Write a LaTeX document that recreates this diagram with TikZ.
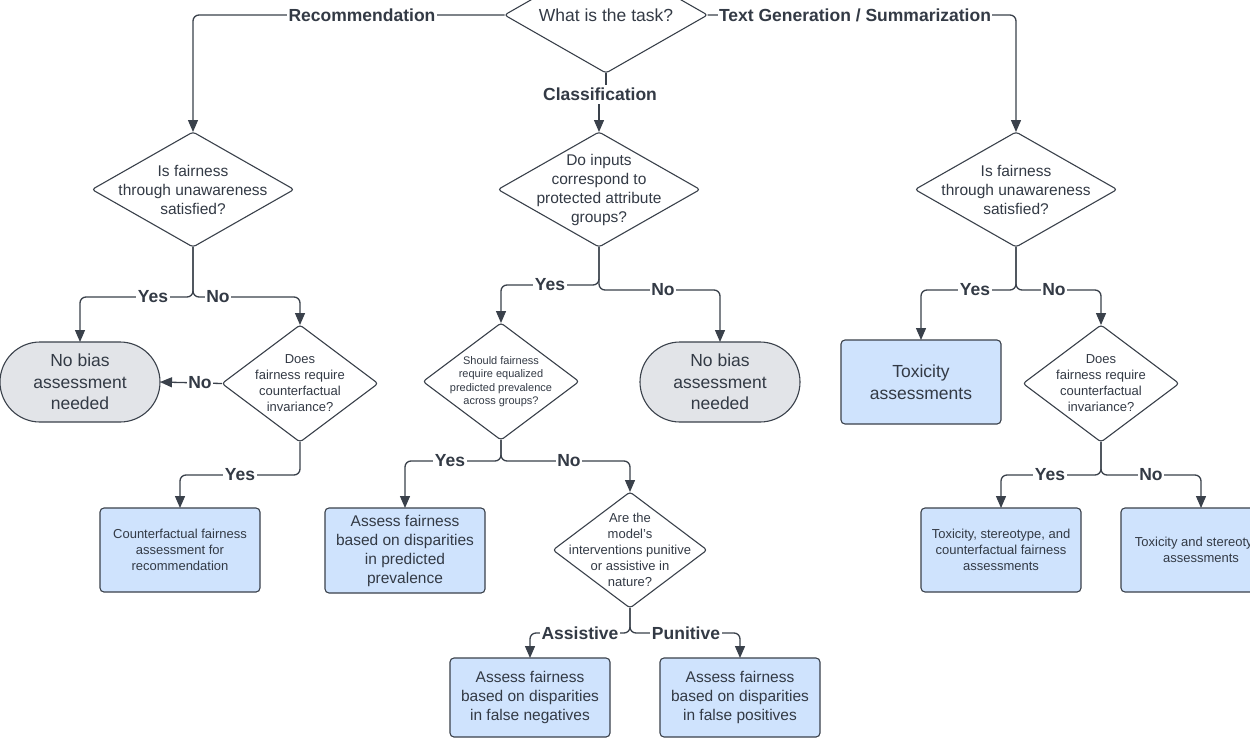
\documentclass[tikz,border=0pt]{standalone}
\usepackage{fontspec}
\setmainfont{Liberation Sans}
\usetikzlibrary{shapes.geometric,arrows.meta}
\definecolor{ln}{HTML}{3A414B}
\definecolor{tx}{HTML}{333A45}
\definecolor{bl}{HTML}{CFE3FD}
\definecolor{gr}{HTML}{E2E4E8}
\begin{document}
\begin{tikzpicture}[x=1pt,y=-1pt,
  big/.style={font=\fontsize{17.5}{21.5}\selectfont},
  mid/.style={font=\fontsize{15.5}{19}\selectfont},
  sm/.style={font=\fontsize{13}{16}\selectfont},
  xs/.style={font=\fontsize{11}{13.3}\selectfont},
  dtext/.style={align=center, text=tx, inner sep=0pt},
  dia/.style={diamond, draw=ln, line width=1.1pt, fill=white, inner sep=0pt, outer sep=0pt, rounded corners=3pt},
  box/.style={rectangle, draw=ln, line width=1.1pt, fill=bl, rounded corners=4pt, minimum width=160pt, minimum height=84pt, align=center, text=tx, inner sep=2pt, outer sep=0pt},
  term/.style={rectangle, draw=ln, line width=1.1pt, fill=gr, rounded corners=40pt, minimum width=160pt, minimum height=80pt, align=center, text=tx, inner sep=2pt, outer sep=0pt, big},
  conn/.style={draw=ln, line width=1.3pt, rounded corners=6pt},
  arr/.style={conn, -{Triangle[width=10pt,length=12pt]}},
  lbl/.style={font=\bfseries\fontsize{17.5}{20}\selectfont, fill=white, inner sep=1.5pt, text=tx}
]
\useasboundingbox (0,0) rectangle (1250,750);
\clip (0,0) rectangle (1250,750);
\fill[white] (0,0) rectangle (1250,750);

% decision nodes
\node[dia, minimum width=203pt, minimum height=116pt, label={[dtext,big]center:What is the task?}] (task) at (606,15) {};
\node[dia, minimum width=202pt, minimum height=115pt, label={[dtext,mid]center:{Is fairness\\through unawareness\\satisfied?}}] (d1) at (193,189.5) {};
\node[dia, minimum width=202pt, minimum height=115pt, label={[dtext,mid]center:{Do inputs\\correspond to\\protected attribute\\groups?}}] (d2) at (599,189.5) {};
\node[dia, minimum width=202pt, minimum height=115pt, label={[dtext,mid]center:{Is fairness\\through unawareness\\satisfied?}}] (d3) at (1016,189.5) {};
\node[dia, minimum width=156pt, minimum height=117pt, label={[dtext,sm]center:{Does\\fairness require\\counterfactual\\invariance?}}] (d4) at (300,383.5) {};
\node[dia, minimum width=156pt, minimum height=117pt, label={[dtext,xs]center:{Should fairness\\require equalized\\predicted prevalence\\across groups?}}] (d5) at (501,381.5) {};
\node[dia, minimum width=154pt, minimum height=116pt, label={[dtext,sm]center:{Are the\\model's\\interventions punitive\\or assistive in\\nature?}}] (d6) at (630,550) {};
\node[dia, minimum width=156pt, minimum height=117pt, label={[dtext,sm]center:{Does\\fairness require\\counterfactual\\invariance?}}] (d7) at (1101,383.5) {};

% terminals
\node[term] (nb1) at (80,382) {No bias\\assessment\\needed};
\node[term] (nb2) at (720,382) {No bias\\assessment\\needed};

% result boxes
\node[box, sm] (b1) at (180,550) {Counterfactual fairness\\assessment for\\recommendation};
\node[box, mid, minimum height=85pt] (b2) at (405,550.5) {Assess fairness\\based on disparities\\in predicted\\prevalence};
\node[box, mid, minimum height=79pt] (b3) at (530,697.5) {Assess fairness\\based on disparities\\in false negatives};
\node[box, mid, minimum height=79pt] (b4) at (740,697.5) {Assess fairness\\based on disparities\\in false positives};
\node[box, big] (b5) at (921,382) {Toxicity\\assessments};
\node[box, sm] (b6) at (1001,550) {Toxicity, stereotype, and\\counterfactual fairness\\assessments};
\node[box, sm] (b7) at (1201,550) {Toxicity and stereotype\\assessments};

% connectors
\draw[arr] (task.west) -| (d1.north);
\draw[arr] (task.east) -| (d3.north);
\draw[conn] (task.south) -- ++(0,12);
\draw[arr] (d2.north |- 0,104) -- (d2.north);

\draw[arr] (d1.south) -- ++(0,50) -| (nb1.north);
\draw[arr] (d1.south) -- ++(0,50) -| (d4.north);
\draw[arr] (d4.west) -- (nb1.east);
\draw[arr] (d4.south) -- ++(0,33) -| (b1.north);

\draw[arr] (d2.south) -- ++(0,38) -| (d5.north);
\draw[arr] (d2.south) -- ++(0,43) -| (nb2.north);
\draw[arr] (d5.south) -- ++(0,21) -| (b2.north);
\draw[arr] (d5.south) -- ++(0,21) -| (d6.north);
\draw[arr] (d6.south) -- ++(0,25) -| (b3.north);
\draw[arr] (d6.south) -- ++(0,25) -| (b4.north);

\draw[arr] (d3.south) -- ++(0,43) -| (b5.north);
\draw[arr] (d3.south) -- ++(0,43) -| (d7.north);
\draw[arr] (d7.south) -- ++(0,33) -| (b6.north);
\draw[arr] (d7.south) -- ++(0,33) -| (b7.north);

% connector labels
\node[lbl] (lrec) at (362,15) {Recommendation};
\node[lbl] (ltxt) at (855,15) {Text Generation / Summarization};
\node[lbl, fill=none] (lcls) at (600,94) {Classification};
\node[lbl] (l1y) at (153,297) {Yes};
\node[lbl] (l1n) at (218,297) {No};
\node[lbl] (l4n) at (200,383) {No};
\node[lbl] (l4y) at (240,475) {Yes};
\node[lbl] (l2y) at (550,285) {Yes};
\node[lbl] (l2n) at (663,290) {No};
\node[lbl] (l5y) at (450,461) {Yes};
\node[lbl] (l5n) at (569,461) {No};
\node[lbl] (l6a) at (580,633) {Assistive};
\node[lbl] (l6p) at (686,633) {Punitive};
\node[lbl] (l3y) at (975,290) {Yes};
\node[lbl] (l3n) at (1054,290) {No};
\node[lbl] (l7y) at (1050,475) {Yes};
\node[lbl] (l7n) at (1151,475) {No};
\end{tikzpicture}
\end{document}
